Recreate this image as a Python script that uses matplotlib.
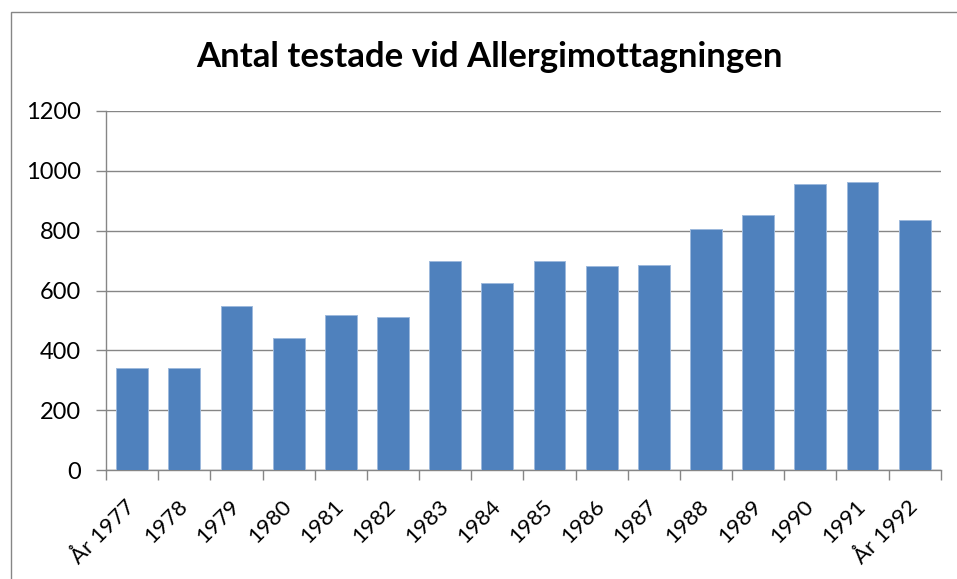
import matplotlib
matplotlib.use("Agg")
import matplotlib.pyplot as plt
from matplotlib.patches import Rectangle
import numpy as np

years = ["År 1977", "1978", "1979", "1980", "1981", "1982", "1983", "1984",
         "1985", "1986", "1987", "1988", "1989", "1990", "1991", "År 1992"]
counts = [343, 340, 547, 442, 518, 510, 697, 625,
          697, 683, 684, 804, 851, 957, 963, 834]
yticks = [0, 200, 400, 600, 800, 1000, 1200]
title = "Antal testade vid Allergimottagningen"

plt.rcParams['font.family'] = ['Lato', 'DejaVu Sans']

W, H = 957, 579
fig = plt.figure(figsize=(W / 100, H / 100), dpi=100)
ax = fig.add_axes([106 / W, 1 - 470.3 / H, (940.7 - 106) / W, (470.3 - 110.7) / H])

grey = '#868686'
x = np.arange(len(counts))
ax.bar(x, counts, width=0.61, color='#4F81BD', edgecolor='#9DB9DC', linewidth=0.7, zorder=3)

ax.set_xlim(-0.5, len(counts) - 0.5)
ax.set_ylim(0, 1200)
ax.set_yticks(yticks)
ax.set_yticklabels([str(v) for v in yticks])
ax.yaxis.grid(True, color=grey, linewidth=1.0, zorder=0)
ax.set_axisbelow(True)

ax.set_xticks(np.arange(-0.5, len(counts), 1.0))
ax.set_xticklabels([])
ax.set_xticks(x, minor=True)
ax.set_xticklabels(years, minor=True, rotation=45, ha='right', va='center',
                   rotation_mode='anchor')
ax.tick_params(axis='x', which='major', length=7, width=1.0, color=grey, direction='out')
ax.tick_params(axis='x', which='minor', length=0, pad=24, labelsize=16)
ax.tick_params(axis='y', length=7, width=1.0, color=grey, direction='out', pad=11, labelsize=17)

for s in ['top', 'right']:
    ax.spines[s].set_visible(False)
for s in ['left', 'bottom']:
    ax.spines[s].set_color(grey)
    ax.spines[s].set_linewidth(1.0)

fig.text(489 / W, 1 - 57 / H, title, ha='center', va='center',
         fontsize=25, fontweight='bold')

border = Rectangle((10.5 / W, -0.1), 1.2, 1 - 12 / H + 0.1, transform=fig.transFigure,
                   fill=False, edgecolor=grey, linewidth=1.0, clip_on=False)
fig.patches.append(border)

fig.savefig("out.png", dpi=100)
